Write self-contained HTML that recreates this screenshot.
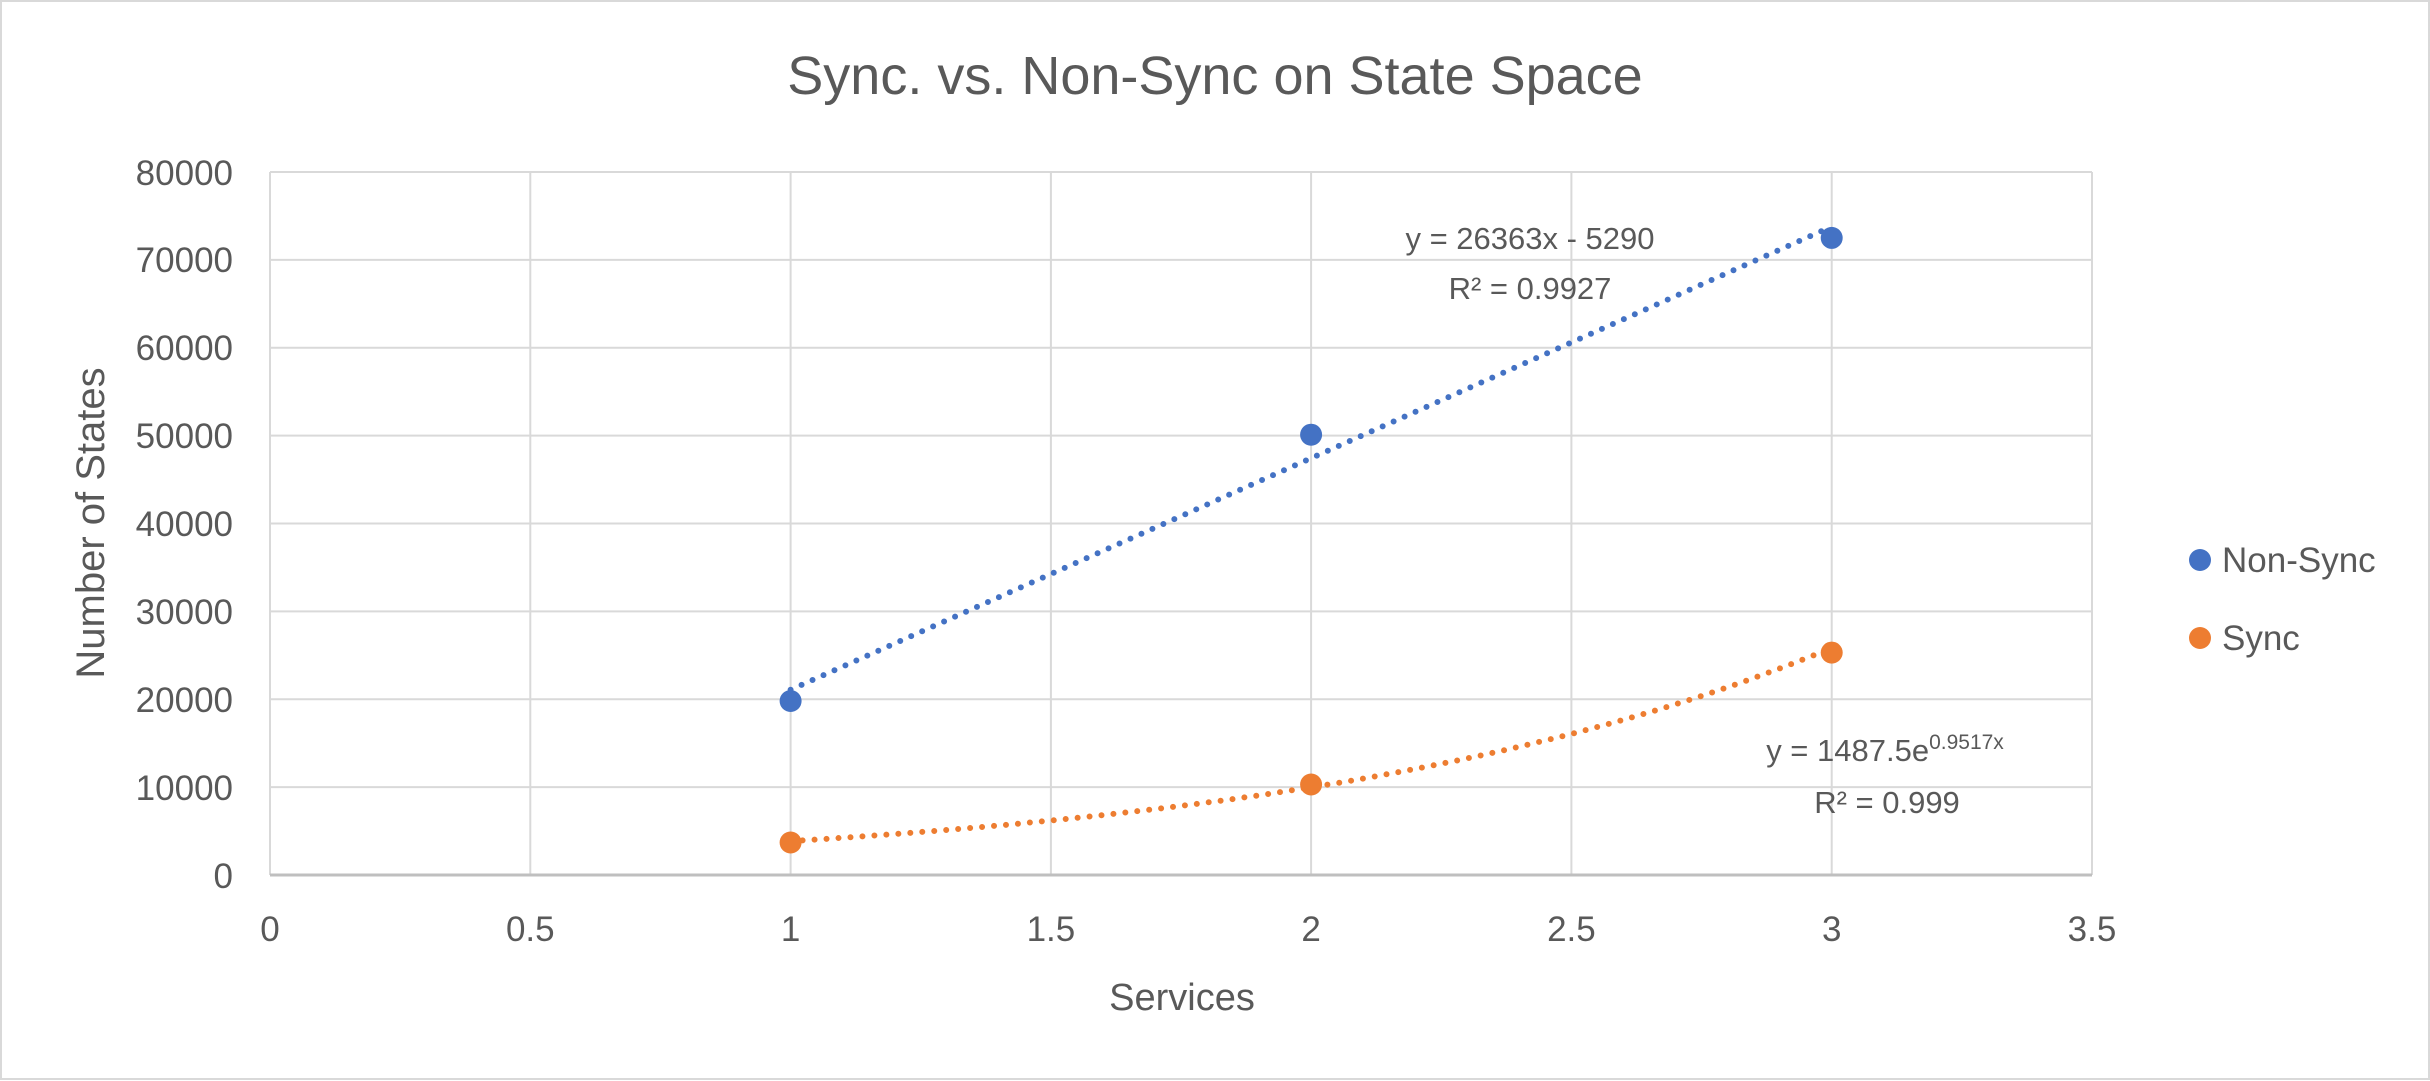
<!DOCTYPE html>
<html><head><meta charset="utf-8"><style>
html,body{margin:0;padding:0;background:#fff;}
svg{display:block;font-family:"Liberation Sans",sans-serif;}
</style></head><body>
<svg width="2430" height="1081" viewBox="0 0 2430 1081">
<rect x="1" y="1" width="2428" height="1078" fill="#fff" stroke="#d9d9d9" stroke-width="2"/>
<text x="1215" y="94" text-anchor="middle" font-size="54" fill="#595959">Sync. vs. Non-Sync on  State Space</text>
<g stroke="#d9d9d9" stroke-width="2">
<line x1="270" y1="172" x2="2092" y2="172"/>
<line x1="270" y1="259.9" x2="2092" y2="259.9"/>
<line x1="270" y1="347.8" x2="2092" y2="347.8"/>
<line x1="270" y1="435.6" x2="2092" y2="435.6"/>
<line x1="270" y1="523.5" x2="2092" y2="523.5"/>
<line x1="270" y1="611.4" x2="2092" y2="611.4"/>
<line x1="270" y1="699.3" x2="2092" y2="699.3"/>
<line x1="270" y1="787.1" x2="2092" y2="787.1"/>
<line x1="270" y1="172" x2="270" y2="875"/>
<line x1="530.3" y1="172" x2="530.3" y2="875"/>
<line x1="790.6" y1="172" x2="790.6" y2="875"/>
<line x1="1050.9" y1="172" x2="1050.9" y2="875"/>
<line x1="1311.1" y1="172" x2="1311.1" y2="875"/>
<line x1="1571.4" y1="172" x2="1571.4" y2="875"/>
<line x1="1831.7" y1="172" x2="1831.7" y2="875"/>
<line x1="2092" y1="172" x2="2092" y2="875"/>
</g>
<line x1="270" y1="875" x2="2092" y2="875" stroke="#bfbfbf" stroke-width="3"/>
<g font-size="35" fill="#595959" text-anchor="end">
<text x="233" y="888">0</text>
<text x="233" y="800">10000</text>
<text x="233" y="712">20000</text>
<text x="233" y="624">30000</text>
<text x="233" y="536">40000</text>
<text x="233" y="448">50000</text>
<text x="233" y="360">60000</text>
<text x="233" y="272">70000</text>
<text x="233" y="185">80000</text>
</g>
<g font-size="35" fill="#595959" text-anchor="middle">
<text x="270" y="941">0</text>
<text x="530.3" y="941">0.5</text>
<text x="790.6" y="941">1</text>
<text x="1050.9" y="941">1.5</text>
<text x="1311.1" y="941">2</text>
<text x="1571.4" y="941">2.5</text>
<text x="1831.7" y="941">3</text>
<text x="2092" y="941">3.5</text>
<text x="1182" y="1010" font-size="38">Services</text>
<text transform="translate(104,523) rotate(-90)" font-size="40">Number of States</text>
</g>
<line x1="790.6" y1="689.8" x2="1831.7" y2="226.6" stroke="#4472c4" stroke-width="6" stroke-linecap="round" stroke-dasharray="0 12"/>
<path id="exp" fill="none" stroke="#ed7d31" stroke-width="6" stroke-linecap="round" stroke-dasharray="0 12"/>
<g fill="#4472c4">
<circle cx="790.6" cy="701" r="11"/>
<circle cx="1311.1" cy="434.7" r="11"/>
<circle cx="1831.7" cy="237.9" r="11"/>
</g>
<g fill="#ed7d31">
<circle cx="790.6" cy="842.5" r="11"/>
<circle cx="1311.1" cy="784.5" r="11"/>
<circle cx="1831.7" cy="652.6" r="11"/>
</g>
<g font-size="31" fill="#595959" text-anchor="middle">
<text x="1530" y="249">y = 26363x - 5290</text>
<text x="1530" y="299">R² = 0.9927</text>
<text x="1885" y="761">y = 1487.5e<tspan font-size="21" dy="-12">0.9517x</tspan></text>
<text x="1887" y="813">R² = 0.999</text>
</g>
<circle cx="2200" cy="560" r="11" fill="#4472c4"/>
<circle cx="2200" cy="638" r="11" fill="#ed7d31"/>
<g font-size="35" fill="#595959">
<text x="2222" y="572">Non-Sync</text>
<text x="2222" y="650">Sync</text>
</g>
<script>
(function(){var d="";for(var i=0;i<=60;i++){var x=1+2*i/60;var v=1487.5*Math.exp(0.9517*x);var px=270+x*520.57;var py=875-v*0.0087875;d+=(i?"L":"M")+px.toFixed(1)+","+py.toFixed(1);}document.getElementById("exp").setAttribute("d",d);})();
</script>
</svg>
</body></html>
